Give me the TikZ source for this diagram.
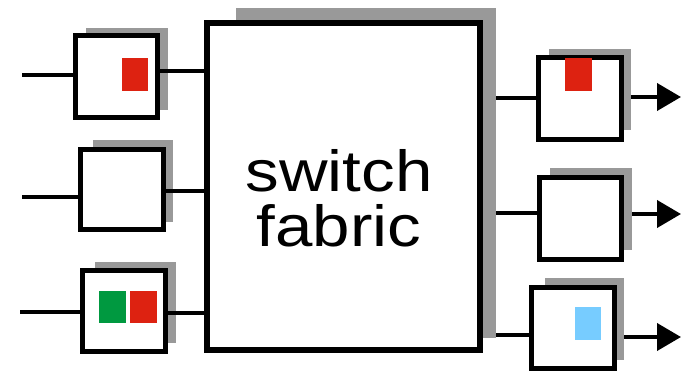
\documentclass[tikz,border=0pt]{standalone}
\usepackage{fontspec}
\setmainfont{Liberation Sans}
\usetikzlibrary{arrows.meta}
\definecolor{shade}{HTML}{999999}
\definecolor{cred}{HTML}{DD2211}
\definecolor{cgreen}{HTML}{009940}
\definecolor{cblue}{HTML}{77CCFF}
\tikzset{
  qbox/.style={draw=black, fill=white, line width=5pt, inner sep=0pt},
  shadowbox/.style={fill=shade, draw=none, inner sep=0pt},
  wire/.style={line width=4pt, black},
  outwire/.style={line width=4pt, black, -{Triangle[length=24pt,width=27pt]}},
  cell/.style={draw=none, inner sep=0pt, minimum width=26pt, minimum height=33pt}
}
\begin{document}
\begin{tikzpicture}[x=1pt,y=-1pt]
\useasboundingbox (0,0) rectangle (681,370);
% fabric
\node[shadowbox, minimum width=260pt, minimum height=330pt] (fsh) at (366,173) {};
\node[qbox, line width=6pt, minimum width=273pt, minimum height=327pt] (fabric) at (343.5,186.5) {};
\node[align=center, inner sep=0pt, font=\fontsize{58}{55}\selectfont, xscale=1.16] (label) at (339,198) {switch\\fabric};
% input ports
\node[shadowbox, minimum width=82pt, minimum height=82pt] (ish1) at (127,69) {};
\node[qbox, minimum width=82pt, minimum height=82pt] (in1) at (116.5,76.5) {};
\node[shadowbox, minimum width=80pt, minimum height=82pt] (ish2) at (133,181) {};
\node[qbox, minimum width=83pt, minimum height=80pt] (in2) at (122,189.5) {};
\node[shadowbox, minimum width=81pt, minimum height=81pt] (ish3) at (135.5,302.5) {};
\node[qbox, minimum width=83pt, minimum height=81pt] (in3) at (124,311) {};
\node[cell, fill=cred] (c1) at (135,74.5) {};
\node[cell, fill=cgreen, minimum width=27pt, minimum height=32pt] (c2) at (112.5,307) {};
\node[cell, fill=cred, minimum width=27pt, minimum height=32pt] (c3) at (143.5,307) {};
% output ports
\node[shadowbox, minimum width=82pt, minimum height=81pt] (osh1) at (590,89.5) {};
\node[qbox, minimum width=83pt, minimum height=82pt] (out1) at (580,98.5) {};
\node[shadowbox, minimum width=82pt, minimum height=82pt] (osh2) at (591,209) {};
\node[qbox, minimum width=82pt, minimum height=82pt] (out2) at (580.5,218.5) {};
\node[shadowbox, minimum width=79pt, minimum height=82pt] (osh3) at (584.5,319) {};
\node[qbox, minimum width=83pt, minimum height=81pt] (out3) at (573,328) {};
\node[cell, fill=cred, minimum width=27pt, minimum height=33pt] (c4) at (578.5,74.5) {};
\node[cell, fill=cblue, minimum width=26pt, minimum height=33pt] (c5) at (588,323.5) {};
% free ends
\coordinate (s1) at (22,75);
\coordinate (s2) at (22,197);
\coordinate (s3) at (20,312);
\coordinate (e1) at (681,97);
\coordinate (e2) at (681,214);
\coordinate (e3) at (681,337);
% input wires
\draw[wire] (s1) -- (s1 -| in1.west);
\draw[wire] (s2) -- (s2 -| in2.west);
\draw[wire] (s3) -- (s3 -| in3.west);
\draw[wire] (in1.east |- 0,71) -- (fabric.west |- 0,71);
\draw[wire] (in2.east |- 0,191) -- (fabric.west |- 0,191);
\draw[wire] (in3.east |- 0,313) -- (fabric.west |- 0,313);
% output wires
\draw[wire] (fsh.east |- 0,98) -- (out1.west |- 0,98);
\draw[wire] (fsh.east |- 0,213) -- (out2.west |- 0,213);
\draw[wire] (fsh.east |- 0,335) -- (out3.west |- 0,335);
\draw[outwire] (osh1.east |- e1) -- (e1);
\draw[outwire] (osh2.east |- e2) -- (e2);
\draw[outwire] (osh3.east |- e3) -- (e3);
\end{tikzpicture}
\end{document}
